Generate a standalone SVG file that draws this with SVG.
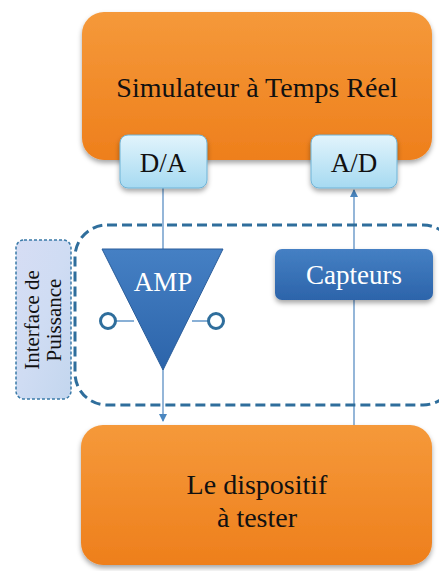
<svg xmlns="http://www.w3.org/2000/svg" width="439" height="571" viewBox="0 0 439 571">
<defs>
<linearGradient id="og" x1="0" y1="0" x2="0" y2="1"><stop offset="0" stop-color="#f5993a"/><stop offset="1" stop-color="#ee7f1c"/></linearGradient>
<linearGradient id="lb" x1="0" y1="0" x2="0" y2="1"><stop offset="0" stop-color="#e2f4fc"/><stop offset="1" stop-color="#a6daf1"/></linearGradient>
<linearGradient id="db" x1="0" y1="0" x2="0" y2="1"><stop offset="0" stop-color="#4580c4"/><stop offset="1" stop-color="#2c64aa"/></linearGradient>
<linearGradient id="lv" x1="0" y1="0" x2="1" y2="1"><stop offset="0" stop-color="#d6ddf4"/><stop offset="0.5" stop-color="#cfdcf3"/><stop offset="1" stop-color="#c3d6ee"/></linearGradient>
<filter id="sh" x="-10%" y="-10%" width="120%" height="130%"><feDropShadow dx="0" dy="3" stdDeviation="2.5" flood-color="#000" flood-opacity="0.35"/></filter>
<marker id="ar" markerWidth="8" markerHeight="8" refX="7" refY="4" orient="auto" markerUnits="userSpaceOnUse"><path d="M0,0 L8,4 L0,8 z" fill="#4a86c0"/></marker>
</defs>
<style>
.big{font-family:"Liberation Serif",serif;fill:#111;text-anchor:middle}
.wt{font-family:"Liberation Serif",serif;fill:#fff;text-anchor:middle;font-size:27px}
.ln{stroke:#5b8fc4;stroke-width:1.3;fill:none}
</style>
<g id="edges">
<line class="ln" x1="163" y1="188" x2="163" y2="421" marker-end="url(#ar)"/>
<line class="ln" x1="354" y1="425" x2="354" y2="190" marker-end="url(#ar)"/>
</g>
<g id="interface">
<rect x="75" y="225" width="380" height="180" rx="32" fill="none" stroke="#2f6e9c" stroke-width="3" stroke-dasharray="10,5"/>
</g>
<g id="label-interface">
<rect x="16" y="240" width="55" height="159" rx="8" fill="url(#lv)" stroke="#3a7aa8" stroke-width="1.5" stroke-dasharray="3,2"/>
<text class="big" font-size="21" transform="translate(43,320) rotate(-90)"><tspan x="0" y="-4">Interface de</tspan><tspan x="0" y="18">Puissance</tspan></text>
</g>
<g id="simulateur">
<rect x="82" y="12" width="350" height="148" rx="22" fill="url(#og)" filter="url(#sh)"/>
<text class="big" x="257" y="97" font-size="28">Simulateur à Temps Réel</text>
</g>
<g id="da">
<rect x="120" y="135" width="87" height="53" rx="8" fill="url(#lb)" stroke="#6fb3d6" stroke-width="1" filter="url(#sh)"/>
<text class="big" x="163" y="172" font-size="27">D/A</text>
</g>
<g id="ad">
<rect x="311" y="135" width="86" height="53" rx="8" fill="url(#lb)" stroke="#6fb3d6" stroke-width="1" filter="url(#sh)"/>
<text class="big" x="354" y="172" font-size="27">A/D</text>
</g>
<g id="amp">
<line x1="108" y1="321" x2="134" y2="321" stroke="#4a86c0" stroke-width="1.3"/>
<line x1="192" y1="321" x2="216" y2="321" stroke="#4a86c0" stroke-width="1.3"/>
<circle cx="108" cy="321" r="7.5" fill="#fff" stroke="#2f6e9c" stroke-width="3"/>
<circle cx="216" cy="321" r="7.5" fill="#fff" stroke="#2f6e9c" stroke-width="3"/>
<polygon points="102,249 223,249 163,370" fill="url(#db)" stroke="#2a5d9a" stroke-width="1"/>
<text class="wt" x="163" y="291">AMP</text>
</g>
<g id="capteurs">
<rect x="275" y="249" width="158" height="51" rx="7" fill="url(#db)" filter="url(#sh)"/>
<text class="wt" x="354" y="284">Capteurs</text>
</g>
<g id="dispositif">
<rect x="81" y="425" width="351" height="140" rx="22" fill="url(#og)" filter="url(#sh)"/>
<text class="big" x="257" y="494" font-size="28">Le dispositif</text>
<text class="big" x="257" y="527" font-size="28">à tester</text>
</g>
</svg>
